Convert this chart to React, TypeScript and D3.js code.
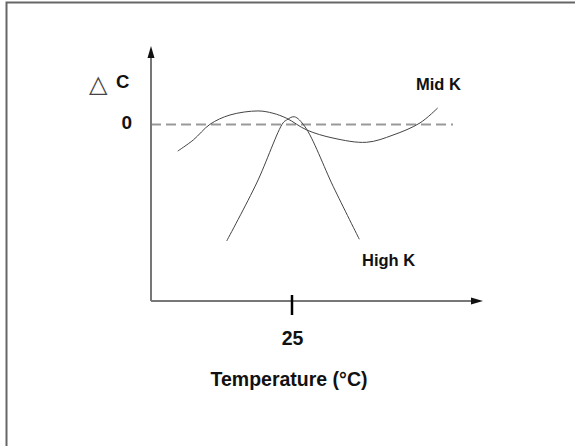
import React from "react";
import * as d3 from "d3";

const midKTemp = [4.88, 7.62, 10.56, 14.08, 19.01, 21.65, 24.07, 27.59, 32.22, 38.15, 42.78, 47.54, 50.65];
const midKDelta = [-1.51, -0.88, 0.01, 0.54, 0.77, 0.64, 0.35, -0.31, -0.77, -1.01, -0.6, 0.09, 0.94];
const highKTemp = [13.5, 18.79, 23.42, 24.07, 25.4, 27.29, 32.27, 36.85];
const highKDelta = [-6.62, -3.32, 0.09, 0.26, 0.44, -0.13, -3.53, -6.52];
const xTicks = [25];
const yTicks = [0];
const seriesLabels = ["Mid K", "High K"];
const xTitle = "Temperature (°C)";

export default function App() {
  const x = d3.scaleLinear().domain([0, 50]).range([150, 434]);
  const y = d3.scaleLinear().domain([-10, 0]).range([300.5, 124.5]);
  const line = d3
    .line<[number, number]>()
    .x((d) => x(d[0]))
    .y((d) => y(d[1]))
    .curve(d3.curveCatmullRom.alpha(0.5));
  const mid = midKTemp.map((t, i) => [t, midKDelta[i]] as [number, number]);
  const high = highKTemp.map((t, i) => [t, highKDelta[i]] as [number, number]);
  const axX0 = 151;
  const axY0 = 301;
  const font = "'Liberation Sans', Arial, sans-serif";
  return (
    <svg
      width={575}
      height={446}
      style={{ position: "absolute", left: 0, top: 0, display: "block", background: "#fff" }}
    >
      <rect x={6.5} y={2.5} width={600} height={500} fill="#fff" stroke="#666" strokeWidth={2} />
      {/* zero dashed line */}
      {yTicks.map((t) => (
        <line key={t} x1={axX0} x2={453} y1={y(t)} y2={y(t)} stroke="#999" strokeWidth={2} strokeDasharray="10,5" />
      ))}
      {/* axes */}
      <line x1={axX0} y1={axY0} x2={axX0} y2={56} stroke="#777" strokeWidth={2} />
      <path d={`M${axX0},46 L${axX0 - 3.5},58 L${axX0 + 3.5},58 Z`} fill="#111" />
      <line x1={axX0} y1={axY0} x2={474} y2={axY0} stroke="#777" strokeWidth={2} />
      <path d={`M483,${axY0} L471,${axY0 - 3.5} L471,${axY0 + 3.5} Z`} fill="#111" />
      {/* curves */}
      <path d={line(mid) || ""} fill="none" stroke="#444" strokeWidth={1} />
      <path d={line(high) || ""} fill="none" stroke="#444" strokeWidth={1} />
      {/* x tick */}
      {xTicks.map((t) => (
        <g key={t}>
          <line x1={x(t)} x2={x(t)} y1={295} y2={315} stroke="#000" strokeWidth={2.5} />
          <text x={x(t) + 0.5} y={345} textAnchor="middle" fontFamily={font} fontWeight="bold" fontSize={19.5} fill="#111">
            {t}
          </text>
        </g>
      ))}
      {yTicks.map((t) => (
        <text key={t} x={132} y={y(t) + 4} textAnchor="end" fontFamily={font} fontWeight="bold" fontSize={19} fill="#111">
          {t}
        </text>
      ))}
      <text x={89} y={92} fontFamily="'DejaVu Sans', sans-serif" fontSize={24} fill="#444">
        △
      </text>
      <text x={116} y={88} fontFamily={font} fontWeight="bold" fontSize={18.5} fill="#111">
        C
      </text>
      <text x={416} y={90} fontFamily={font} fontWeight="bold" fontSize={16.5} fill="#111">
        {seriesLabels[0]}
      </text>
      <text x={362} y={266} fontFamily={font} fontWeight="bold" fontSize={16.5} fill="#111">
        {seriesLabels[1]}
      </text>
      <text x={289} y={386} textAnchor="middle" fontFamily={font} fontWeight="bold" fontSize={19.5} fill="#111">
        {xTitle}
      </text>
    </svg>
  );
}
